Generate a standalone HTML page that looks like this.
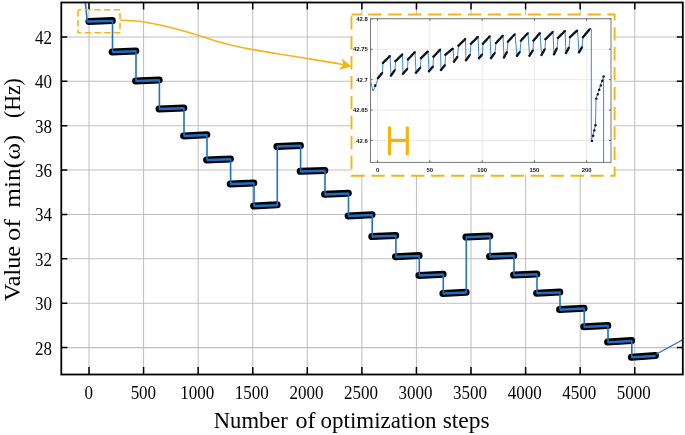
<!DOCTYPE html>
<html><head><meta charset="utf-8"><style>
html,body{margin:0;padding:0;background:#fff;}
body{width:685px;height:435px;overflow:hidden;}
svg{display:block;filter:blur(0.3px);}
</style></head><body>
<svg width="685" height="435" viewBox="0 0 685 435">
<rect width="685" height="435" fill="#fff"/>
<path d="M89.00 2.50V374.50M143.57 2.50V374.50M198.15 2.50V374.50M252.72 2.50V374.50M307.30 2.50V374.50M361.88 2.50V374.50M416.45 2.50V374.50M471.02 2.50V374.50M525.60 2.50V374.50M580.17 2.50V374.50M634.75 2.50V374.50M61.30 347.60H682.80M61.30 303.22H682.80M61.30 258.84H682.80M61.30 214.47H682.80M61.30 170.09H682.80M61.30 125.71H682.80M61.30 81.33H682.80M61.30 36.95H682.80" stroke="#000" stroke-opacity="0.25" stroke-width="1.05" fill="none"/>
<path d="M88.90 21.40L112.30 20.60M112.10 51.90L135.80 50.95M135.60 80.90L159.20 79.95M159.00 108.90L183.80 107.95M183.60 135.90L206.80 134.70M206.60 159.90L230.40 158.95M230.20 183.90L253.80 182.95M253.60 205.90L277.10 204.85M276.90 146.50L300.40 145.50M300.20 171.30L324.80 170.40M324.60 194.30L348.30 193.15M348.10 215.90L372.00 214.70M371.80 236.50L395.70 235.50M395.50 256.70L419.10 255.60M418.90 275.40L443.10 274.20M442.90 293.50L466.10 292.25M465.90 237.10L489.80 236.05M489.60 256.50L513.80 255.50M513.60 275.10L536.80 274.05M536.60 293.20L559.80 292.10M559.60 309.60L584.00 308.30M583.80 326.80L607.80 325.55M607.60 342.10L631.60 340.60M631.40 357.20L655.40 355.60" stroke="#000" stroke-width="7.0" stroke-linecap="round" fill="none"/>
<path d="M85.30 2.50L87.30 21.50M112.50 20.90L112.50 52.00M136.00 51.25L136.00 81.00M159.40 80.25L159.40 109.00M184.00 108.25L184.00 136.00M207.00 135.00L207.00 160.00M230.60 159.25L230.60 184.00M254.00 183.25L254.00 206.00M277.30 205.15L277.30 146.60M300.60 145.80L300.60 171.40M325.00 170.70L325.00 194.40M348.50 193.45L348.50 216.00M372.20 215.00L372.20 236.60M395.90 235.80L395.90 256.80M419.30 255.90L419.30 275.50M443.30 274.50L443.30 293.60M466.30 292.55L466.30 237.20M490.00 236.35L490.00 256.60M514.00 255.80L514.00 275.20M537.00 274.35L537.00 293.30M560.00 292.40L560.00 309.70M584.20 308.60L584.20 326.90M608.00 325.85L608.00 342.20M631.80 340.90L631.80 357.30" stroke="#1f6fc4" stroke-width="1.6" fill="none" stroke-linecap="square"/>
<path d="M87.30 21.50L112.50 20.90M112.50 52.00L136.00 51.25M136.00 81.00L159.40 80.25M159.40 109.00L184.00 108.25M184.00 136.00L207.00 135.00M207.00 160.00L230.60 159.25M230.60 184.00L254.00 183.25M254.00 206.00L277.30 205.15M277.30 146.60L300.60 145.80M300.60 171.40L325.00 170.70M325.00 194.40L348.50 193.45M348.50 216.00L372.20 215.00M372.20 236.60L395.90 235.80M395.90 256.80L419.30 255.90M419.30 275.50L443.30 274.50M443.30 293.60L466.30 292.55M466.30 237.20L490.00 236.35M490.00 256.60L514.00 255.80M514.00 275.20L537.00 274.35M537.00 293.30L560.00 292.40M560.00 309.70L584.20 308.60M584.20 326.90L608.00 325.85M608.00 342.20L631.80 340.90M631.80 357.30L655.60 355.90" stroke="#1f6fc4" stroke-width="2.5" fill="none" stroke-linecap="butt"/>
<path d="M655.6 354.5L682.80 339.7" stroke="#1f6fc4" stroke-width="1.3" fill="none"/>
<path d="M89.00 374.50v-7.6M89.00 2.50v7M143.57 374.50v-7.6M143.57 2.50v7M198.15 374.50v-7.6M198.15 2.50v7M252.72 374.50v-7.6M252.72 2.50v7M307.30 374.50v-7.6M307.30 2.50v7M361.88 374.50v-7.6M361.88 2.50v7M416.45 374.50v-7.6M416.45 2.50v7M471.02 374.50v-7.6M471.02 2.50v7M525.60 374.50v-7.6M525.60 2.50v7M580.17 374.50v-7.6M580.17 2.50v7M634.75 374.50v-7.6M634.75 2.50v7M61.30 347.60h6M682.80 347.60h-6M61.30 303.22h6M682.80 303.22h-6M61.30 258.84h6M682.80 258.84h-6M61.30 214.47h6M682.80 214.47h-6M61.30 170.09h6M682.80 170.09h-6M61.30 125.71h6M682.80 125.71h-6M61.30 81.33h6M682.80 81.33h-6M61.30 36.95h6M682.80 36.95h-6" stroke="#000" stroke-width="1.5" fill="none"/>
<rect x="61.3" y="2.5" width="621.50" height="372.00" fill="none" stroke="#000" stroke-width="1.8"/>
<g font-family="Liberation Serif" font-size="17.9" fill="#000"><text x="88.80" y="398.9" text-anchor="middle" textLength="8.50" lengthAdjust="spacingAndGlyphs">0</text><text x="143.38" y="398.9" text-anchor="middle" textLength="25.50" lengthAdjust="spacingAndGlyphs">500</text><text x="197.25" y="398.9" text-anchor="middle" textLength="34.00" lengthAdjust="spacingAndGlyphs">1000</text><text x="251.82" y="398.9" text-anchor="middle" textLength="34.00" lengthAdjust="spacingAndGlyphs">1500</text><text x="306.40" y="398.9" text-anchor="middle" textLength="34.00" lengthAdjust="spacingAndGlyphs">2000</text><text x="360.98" y="398.9" text-anchor="middle" textLength="34.00" lengthAdjust="spacingAndGlyphs">2500</text><text x="415.55" y="398.9" text-anchor="middle" textLength="34.00" lengthAdjust="spacingAndGlyphs">3000</text><text x="470.12" y="398.9" text-anchor="middle" textLength="34.00" lengthAdjust="spacingAndGlyphs">3500</text><text x="524.70" y="398.9" text-anchor="middle" textLength="34.00" lengthAdjust="spacingAndGlyphs">4000</text><text x="579.27" y="398.9" text-anchor="middle" textLength="34.00" lengthAdjust="spacingAndGlyphs">4500</text><text x="633.85" y="398.9" text-anchor="middle" textLength="34.00" lengthAdjust="spacingAndGlyphs">5000</text><text x="52.1" y="354.60" text-anchor="end" textLength="17.0" lengthAdjust="spacingAndGlyphs">28</text><text x="52.1" y="310.22" text-anchor="end" textLength="17.0" lengthAdjust="spacingAndGlyphs">30</text><text x="52.1" y="265.84" text-anchor="end" textLength="17.0" lengthAdjust="spacingAndGlyphs">32</text><text x="52.1" y="221.47" text-anchor="end" textLength="17.0" lengthAdjust="spacingAndGlyphs">34</text><text x="52.1" y="177.09" text-anchor="end" textLength="17.0" lengthAdjust="spacingAndGlyphs">36</text><text x="52.1" y="132.71" text-anchor="end" textLength="17.0" lengthAdjust="spacingAndGlyphs">38</text><text x="52.1" y="88.33" text-anchor="end" textLength="17.0" lengthAdjust="spacingAndGlyphs">40</text><text x="52.1" y="43.95" text-anchor="end" textLength="17.0" lengthAdjust="spacingAndGlyphs">42</text></g>
<g font-family="Liberation Serif" font-size="22.6" fill="#000"><text x="213.80" y="428.2" textLength="74.00" lengthAdjust="spacingAndGlyphs">Number</text><text x="295.50" y="428.2" textLength="20.00" lengthAdjust="spacingAndGlyphs">of</text><text x="320.60" y="428.2" textLength="116.00" lengthAdjust="spacingAndGlyphs">optimization</text><text x="442.70" y="428.2" textLength="47.00" lengthAdjust="spacingAndGlyphs">steps</text></g>
<g font-family="Liberation Serif" font-size="22.3" fill="#000"><text transform="translate(20.2 300.90) rotate(-90)" textLength="55.00" lengthAdjust="spacingAndGlyphs">Value</text><text transform="translate(20.2 241.00) rotate(-90)" textLength="22.00" lengthAdjust="spacingAndGlyphs">of</text><text transform="translate(20.2 207.70) rotate(-90)" textLength="73.00" lengthAdjust="spacingAndGlyphs">min(&#969;)</text><text transform="translate(20.2 118.10) rotate(-90)" textLength="40.00" lengthAdjust="spacingAndGlyphs">(Hz)</text></g>
<path d="M78 9.7H120V32.7H78Z" fill="none" stroke="#F4B41A" stroke-width="1.6" stroke-dasharray="6.3 3.4" stroke-dashoffset="3.1"/>
<path d="M120.30 20.20C122.33 20.30 128.57 20.50 132.50 20.80C136.43 21.10 139.52 21.33 143.90 22.00C148.28 22.67 153.40 23.63 158.80 24.80C164.20 25.97 169.88 27.30 176.30 29.00C182.72 30.70 190.58 32.95 197.30 35.00C204.02 37.05 210.47 39.50 216.60 41.30C222.73 43.10 228.07 44.42 234.10 45.80C240.13 47.18 245.58 48.28 252.80 49.60C260.02 50.92 268.55 52.25 277.40 53.70C286.25 55.15 297.03 56.85 305.90 58.30C314.77 59.75 324.42 61.35 330.60 62.40C336.78 63.45 340.93 64.23 343.00 64.60" fill="none" stroke="#F4B41A" stroke-width="1.6" stroke-linejoin="round"/>
<path d="M351.2 66.5L341.9 58.3L343.2 64.4L339.1 70Z" fill="#F4B41A"/>
<rect x="352.3" y="15.3" width="261.5" height="159.4" fill="#fff"/>
<path d="M377.60 18.70V162.40M429.88 18.70V162.40M482.15 18.70V162.40M534.43 18.70V162.40M586.70 18.70V162.40M370.50 18.80H611.00M370.50 49.23H611.00M370.50 79.66H611.00M370.50 110.09H611.00M370.50 140.52H611.00" stroke="#e6e6e6" stroke-width="0.9" fill="none"/>
<path d="M370.50 80.60L373.00 91.00L376.00 84.70L378.00 78.00L382.50 72.60L383.00 62.80L390.00 55.90L391.00 75.50L395.00 69.70L395.50 61.10L402.50 54.20L403.00 73.70L407.50 68.60L408.00 59.40L415.00 51.90L416.00 72.60L420.50 67.40L421.00 58.20L428.00 51.30L429.00 71.20L433.00 66.40L433.50 56.70L440.50 49.20L441.00 69.90L445.00 65.00L445.50 54.70L453.00 48.50L454.00 61.60L457.50 56.70L458.50 45.70L465.50 38.80L466.00 60.20L470.00 54.70L471.00 43.60L478.00 36.70L479.00 58.10L482.50 54.00L483.00 43.60L490.00 36.00L491.00 58.10L495.00 52.60L496.00 43.00L503.00 35.40L504.00 57.40L507.00 51.90L508.00 41.60L515.00 34.00L517.00 55.70L520.00 51.60L521.00 40.50L528.00 32.90L529.50 55.70L533.00 50.20L533.50 40.50L540.00 32.90L541.50 55.00L545.00 48.80L545.50 39.20L553.00 31.60L554.00 54.30L557.00 48.10L558.00 37.80L565.00 30.90L566.00 53.00L569.00 47.40L570.00 37.10L577.50 30.20L579.00 52.30L582.00 47.40L583.00 37.10L590.00 28.80L591.30 28.80L591.30 140.90L595.50 125.20L596.00 98.60L603.60 76.40L603.60 162.40" stroke="#3f86d0" stroke-width="1.0" fill="none" stroke-linejoin="round"/>
<path d="M375.20 85.60L375.40 85.00M378.00 78.00L382.50 72.60M383.00 62.80L390.00 55.90M391.00 75.50L395.00 69.70M395.50 61.10L402.50 54.20M403.00 73.70L407.50 68.60M408.00 59.40L415.00 51.90M416.00 72.60L420.50 67.40M421.00 58.20L428.00 51.30M429.00 71.20L433.00 66.40M433.50 56.70L440.50 49.20M441.00 69.90L445.00 65.00M445.50 54.70L453.00 48.50M454.00 61.60L457.50 56.70M458.50 45.70L465.50 38.80M466.00 60.20L470.00 54.70M471.00 43.60L478.00 36.70M479.00 58.10L482.50 54.00M483.00 43.60L490.00 36.00M491.00 58.10L495.00 52.60M496.00 43.00L503.00 35.40M504.00 57.40L507.00 51.90M508.00 41.60L515.00 34.00M517.00 55.70L520.00 51.60M521.00 40.50L528.00 32.90M529.50 55.70L533.00 50.20M533.50 40.50L540.00 32.90M541.50 55.00L545.00 48.80M545.50 39.20L553.00 31.60M554.00 54.30L557.00 48.10M558.00 37.80L565.00 30.90M566.00 53.00L569.00 47.40M570.00 37.10L577.50 30.20M579.00 52.30L582.00 47.40M583.00 37.10L590.00 28.80" stroke="#0a0f18" stroke-width="2.5" stroke-linecap="round" stroke-dasharray="0.01 1.8" fill="none"/>
<path d="M375.20 85.60L375.40 85.00M378.00 78.00L382.50 72.60M383.00 62.80L390.00 55.90M391.00 75.50L395.00 69.70M395.50 61.10L402.50 54.20M403.00 73.70L407.50 68.60M408.00 59.40L415.00 51.90M416.00 72.60L420.50 67.40M421.00 58.20L428.00 51.30M429.00 71.20L433.00 66.40M433.50 56.70L440.50 49.20M441.00 69.90L445.00 65.00M445.50 54.70L453.00 48.50M454.00 61.60L457.50 56.70M458.50 45.70L465.50 38.80M466.00 60.20L470.00 54.70M471.00 43.60L478.00 36.70M479.00 58.10L482.50 54.00M483.00 43.60L490.00 36.00M491.00 58.10L495.00 52.60M496.00 43.00L503.00 35.40M504.00 57.40L507.00 51.90M508.00 41.60L515.00 34.00M517.00 55.70L520.00 51.60M521.00 40.50L528.00 32.90M529.50 55.70L533.00 50.20M533.50 40.50L540.00 32.90M541.50 55.00L545.00 48.80M545.50 39.20L553.00 31.60M554.00 54.30L557.00 48.10M558.00 37.80L565.00 30.90M566.00 53.00L569.00 47.40M570.00 37.10L577.50 30.20M579.00 52.30L582.00 47.40M583.00 37.10L590.00 28.80" stroke="#111822" stroke-width="1.5" stroke-linecap="round" fill="none"/>
<circle cx="592.0" cy="140.9" r="1.2" fill="#0a0f18"/><circle cx="593.2" cy="135.7" r="1.2" fill="#0a0f18"/><circle cx="594.3" cy="130.4" r="1.2" fill="#0a0f18"/><circle cx="595.5" cy="125.2" r="1.2" fill="#0a0f18"/><circle cx="596.3" cy="98.6" r="1.2" fill="#0a0f18"/><circle cx="597.8" cy="94.2" r="1.2" fill="#0a0f18"/><circle cx="599.3" cy="89.8" r="1.2" fill="#0a0f18"/><circle cx="600.8" cy="85.4" r="1.2" fill="#0a0f18"/><circle cx="602.2" cy="80.9" r="1.2" fill="#0a0f18"/><circle cx="603.6" cy="76.4" r="1.2" fill="#0a0f18"/>
<path d="M377.60 162.40v-2M377.60 18.70v2M429.88 162.40v-2M429.88 18.70v2M482.15 162.40v-2M482.15 18.70v2M534.43 162.40v-2M534.43 18.70v2M586.70 162.40v-2M586.70 18.70v2M370.50 18.80h2M611.00 18.80h-2M370.50 49.23h2M611.00 49.23h-2M370.50 79.66h2M611.00 79.66h-2M370.50 110.09h2M611.00 110.09h-2M370.50 140.52h2M611.00 140.52h-2" stroke="#333" stroke-width="0.8" fill="none"/>
<rect x="370.5" y="18.7" width="240.50" height="143.70" fill="none" stroke="#777" stroke-width="1"/>
<g font-family="Liberation Sans" font-size="5.9" font-weight="bold" fill="#111"><text x="377.60" y="171.6" text-anchor="middle">0</text><text x="429.88" y="171.6" text-anchor="middle">50</text><text x="482.15" y="171.6" text-anchor="middle">100</text><text x="534.43" y="171.6" text-anchor="middle">150</text><text x="586.70" y="171.6" text-anchor="middle">200</text><text x="367.8" y="20.90" text-anchor="end">42.8</text><text x="367.8" y="51.33" text-anchor="end">42.75</text><text x="367.8" y="81.76" text-anchor="end">42.7</text><text x="367.8" y="112.19" text-anchor="end">42.65</text><text x="367.8" y="142.62" text-anchor="end">42.6</text></g>
<path d="M389.5 126.4V155.2M407.3 126.4V155.2M389.5 140.4H407.3" stroke="#F7B20C" stroke-width="3.1" fill="none"/>
<path d="M351.5 14.5H614.6V175.7H351.5Z" fill="none" stroke="#F4B41A" stroke-width="1.9" stroke-dasharray="13.4 6.52" stroke-dashoffset="3.15"/>
</svg>
</body></html>
